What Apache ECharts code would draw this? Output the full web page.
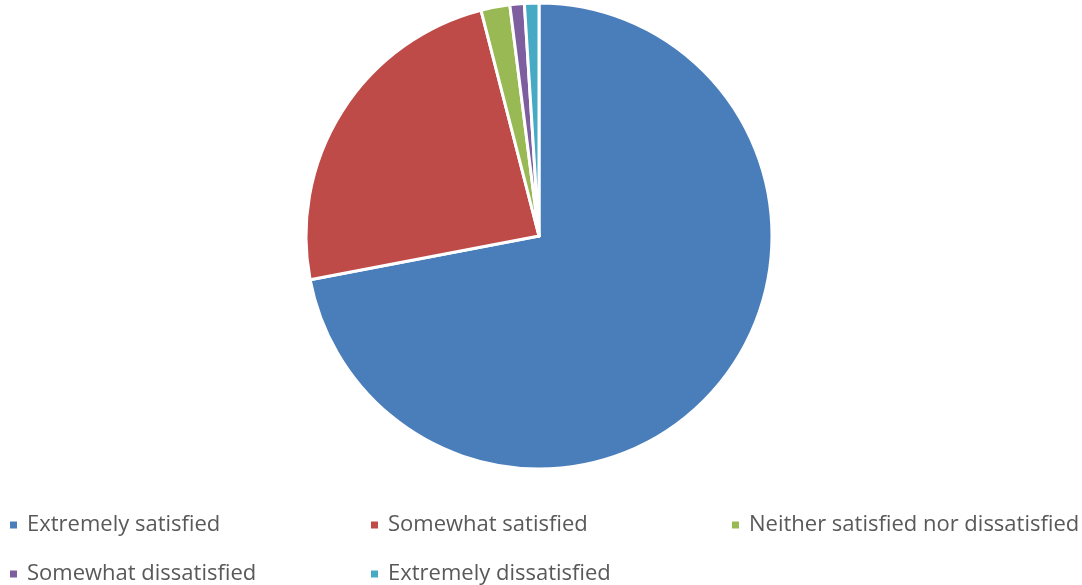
<!DOCTYPE html>
<html>
<head>
<meta charset="utf-8">
<script src="https://cdn.jsdelivr.net/npm/echarts@6/dist/echarts.min.js"></script>
<style>
  html, body { margin: 0; padding: 0; background: #fff; }
  #chart { width: 1082px; height: 585px; }
</style>
</head>
<body>
<div id="chart"></div>
<script>
// Satisfaction survey responses (percent)
const categories = [
  'Extremely satisfied',
  'Somewhat satisfied',
  'Neither satisfied nor dissatisfied',
  'Somewhat dissatisfied',
  'Extremely dissatisfied'
];
const values = [72, 24, 2, 1, 1];
const colors = ['#4A7EBB', '#BE4B48', '#98B954', '#7D5FA0', '#46AAC5'];

// Legend slots: two rows, three columns
const legendSlots = [
  { left: 8, top: 514 },
  { left: 369, top: 514 },
  { left: 730, top: 514 },
  { left: 8, top: 563 },
  { left: 369, top: 563 }
];

const chart = echarts.init(document.getElementById('chart'));
chart.setOption({
  backgroundColor: '#ffffff',
  animation: false,
  color: colors,
  legend: categories.map((name, i) => ({
    data: [name],
    left: legendSlots[i].left,
    top: legendSlots[i].top,
    padding: 0,
    icon: 'rect',
    itemWidth: 9,
    itemHeight: 9,
    itemGap: 0,
    textStyle: {
      fontFamily: 'Open Sans',
      fontSize: 22,
      color: '#595959',
      padding: [0, 0, 0, 4]
    }
  })),
  series: [{
    type: 'pie',
    center: [539, 236],
    radius: 233,
    startAngle: 90,
    clockwise: true,
    label: { show: false },
    labelLine: { show: false },
    itemStyle: { borderColor: '#ffffff', borderWidth: 3 },
    emphasis: { disabled: true },
    data: categories.map((name, i) => ({ name, value: values[i] }))
  }]
});
</script>
</body>
</html>
